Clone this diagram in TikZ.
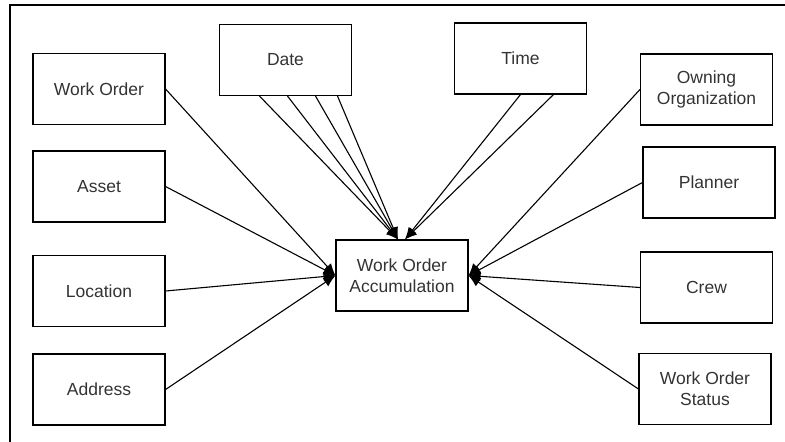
\documentclass[tikz,border=0pt]{standalone}
\usepackage{fontspec}
\setmainfont{Liberation Sans}
\usepackage{tikz}
\usetikzlibrary{arrows.meta,positioning}

\begin{document}
\begin{tikzpicture}[x=1pt,y=-1pt,->,>={Latex[length=12pt,width=10pt]},
                line width=1.1pt,
                entity/.style={draw,->,-,minimum width=132pt,minimum height=71pt,
                    align=center,inner sep=2pt,text=black!80,
                    font=\fontsize{17.5}{21}\selectfont},
                frame/.style={-,line width=1.2pt}]
                \useasboundingbox (0,0) rectangle (785,442);
                \draw[frame] (10,460) |- (800,5);

                % Define the entities as nodes
                \node[entity] (acc)     at (402,275.5) {Work Order\\Accumulation};
                \node[entity] (wo)      at (99,89)     {Work Order};
                \node[entity] (asset)   at (99,186.5)  {Asset};
                \node[entity] (loc)     at (99,291)    {Location};
                \node[entity] (addr)    at (99,389.5)  {Address};
                \node[entity] (date)    at (285.5,60)  {Date};
                \node[entity] (time)    at (520.5,58.5){Time};
                \node[entity] (own)     at (706.5,89.5){Owning\\Organization};
                \node[entity] (planner) at (709,182.5) {Planner};
                \node[entity] (crew)    at (706.5,287.5){Crew};
                \node[entity] (status)  at (705,389)   {Work Order\\Status};

                % Connect the entities with arrows

                \draw (wo.east)     -- (acc.west);
                \draw (asset.east)  -- (acc.west);
                \draw (loc.east)    -- (acc.west);
                \draw (addr.east)   -- (acc.west);

                \draw ([xshift=-26pt]date.south) -- ([xshift=-4pt]acc.north);
                \draw ([xshift=2pt]date.south)   -- ([xshift=-4pt]acc.north);
                \draw ([xshift=30pt]date.south)  -- ([xshift=-4pt]acc.north);
                \draw ([xshift=52pt]date.south)  -- ([xshift=-4pt]acc.north);

                \draw (time.south)               -- ([xshift=3pt]acc.north);
                \draw ([xshift=33pt]time.south)  -- ([xshift=3pt]acc.north);

                \draw (own.west)     -- (acc.east);
                \draw (planner.west) -- (acc.east);
                \draw (crew.west)    -- (acc.east);
                \draw (status.west)  -- (acc.east);

            \end{tikzpicture}
\end{document}
